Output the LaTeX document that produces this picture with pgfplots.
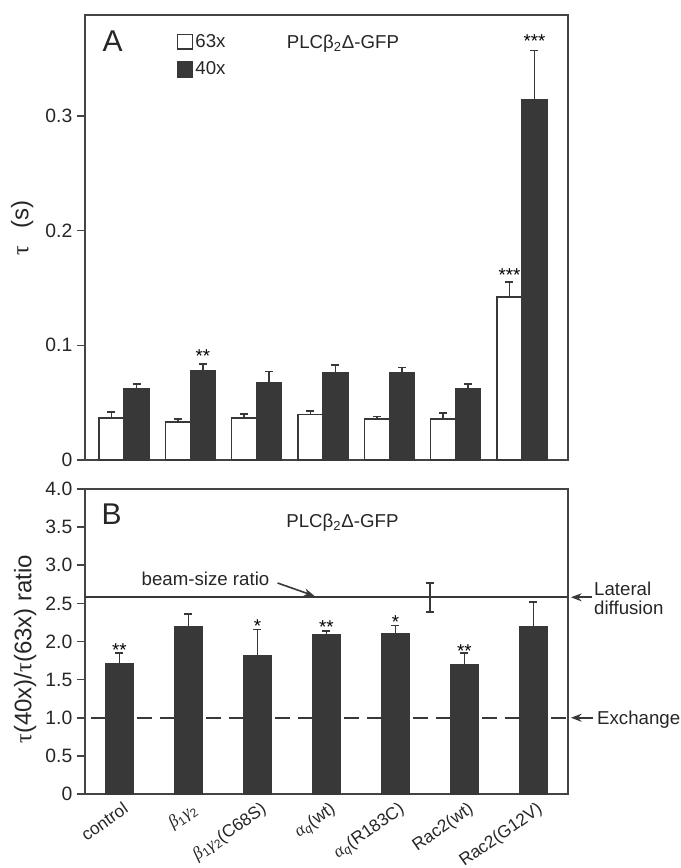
\documentclass[border=0pt]{standalone}
\usepackage{fontspec}
\setmainfont{Liberation Sans}
\newfontfamily\grk{Liberation Serif}
\usepackage{pgfplots}
\pgfplotsset{compat=1.18}
\usetikzlibrary{arrows.meta}
\definecolor{barc}{HTML}{383838}
\definecolor{axc}{HTML}{444444}
\newcommand{\fs}[1]{\fontsize{#1}{#1}\selectfont}
\newcommand{\gk}[1]{{\grk\itshape #1}}

\begin{document}
\begin{tikzpicture}
\path[use as bounding box] (0,0) rectangle (510.75pt,651pt);
\pgfplotsset{
  panel/.style={
    scale only axis, width=362.25pt,
    axis line style={axc, line width=1.5pt},
    ytick pos=left, xtick pos=bottom,
    tick align=outside, major tick length=6pt,
    ytick style={axc, line width=1.2pt},
    xtick style={draw=none},
    tick label style={font=\fs{14.5pt}, text=black!85},
    /pgf/number format/assume math mode=true,
    ymin=0, clip=false,
    label style={font=\fs{18pt}, text=black!85},
  },
  errs/.style={error bars/.cd, y dir=plus, y explicit,
    error bar style={barc, line width=1.2pt},
    error mark options={rotate=90, barc, mark size=3pt, line width=1.2pt}},
}

% ---- panel A ----
\begin{axis}[panel, at={(63.75pt,306pt)}, anchor=south west,
  height=333.75pt,
  xmin=-0.588, xmax=6.694, ymax=0.388,
  xtick=\empty,
  ytick={0,0.1,0.2,0.3}, yticklabels={0,0.1,0.2,0.3},
  ylabel={{\grk τ}\hspace{0.7em}(s)},
  ylabel style={at={(rel axis cs:-0.13,0.521)}, anchor=center},
  legend style={at={(0.19,0.962)}, anchor=north west, draw=none, fill=none,
    font=\fs{14pt}, inner sep=0pt, row sep=6.5pt, nodes={inner sep=1.5pt, text=black!85}},
  legend cell align=left,
]
\addplot[ybar, bar width=0.377, bar shift=0pt, fill=white, draw=barc, line width=1.2pt,
  legend image code/.code={\draw[fill=white, draw=barc, line width=1pt] (0pt,-5.6pt) rectangle (11.25pt,5.6pt);},
  errs]
  coordinates {
  (-0.1885,0.0366) +- (0,0.0054)
  (0.8115,0.0330) +- (0,0.0030)
  (1.8115,0.0366) +- (0,0.0034)
  (2.8115,0.0395) +- (0,0.0032)
  (3.8115,0.0357) +- (0,0.0023)
  (4.8115,0.0360) +- (0,0.0050)
  (5.8115,0.1420) +- (0,0.0130)
  };
\addlegendentry{63x}
\addplot[ybar, bar width=0.377, bar shift=0pt, fill=barc, draw=barc, line width=1.2pt,
  legend image code/.code={\draw[fill=barc, draw=barc, line width=1pt] (0pt,-5.6pt) rectangle (11.25pt,5.6pt);},
  errs]
  coordinates {
  (0.1885,0.0620) +- (0,0.0040)
  (1.1885,0.0778) +- (0,0.0060)
  (2.1885,0.0670) +- (0,0.0100)
  (3.1885,0.0757) +- (0,0.0070)
  (4.1885,0.0759) +- (0,0.0048)
  (5.1885,0.0620) +- (0,0.0040)
  (6.1885,0.3140) +- (0,0.0430)
  };
\addlegendentry{40x}
\node[font=\fs{22.5pt}, text=black!85, anchor=base] at (rel axis cs:0.057,0.917) {A};
\node[font=\fs{14pt}, text=black!85, anchor=base] at (rel axis cs:0.534,0.924) {PLCβ\textsubscript{2}Δ-GFP};
\node[font=\fs{14pt}, anchor=base, yshift=-8.1pt] at (axis cs:1.1885,0.0942) {**};
\node[font=\fs{14pt}, anchor=base, yshift=-8.1pt] at (axis cs:5.8115,0.1648) {***};
\node[font=\fs{14pt}, anchor=base, yshift=-8.1pt] at (axis cs:6.1885,0.3688) {***};
\end{axis}

% ---- panel B ----
\begin{axis}[panel, at={(63.75pt,55.5pt)}, anchor=south west,
  height=228.75pt,
  xmin=-0.5, xmax=6.5, ymax=4,
  ytick={0,0.5,1,1.5,2,2.5,3,3.5,4},
  yticklabels={0,0.5,1.0,1.5,2.0,2.5,3.0,3.5,4.0},
  xtick={0,1,2,3,4,5,6},
  xticklabels={control,\gk{β}\textsubscript{1}\gk{γ}\textsubscript{2},\gk{β}\textsubscript{1}\gk{γ}\textsubscript{2}(C68S),\gk{α}\textsubscript{\itshape q}(wt),\gk{α}\textsubscript{\itshape q}(R183C),Rac2(wt),Rac2(G12V)},
  xticklabel style={rotate=35, anchor=north east, font=\fs{13pt}, inner sep=2pt, xshift=4pt, yshift=1.5pt},
  ylabel={{\grk τ}(40x)/{\grk τ}(63x) ratio},
  ylabel style={at={(rel axis cs:-0.124,0.475)}, anchor=center},
]
\addplot[barc, line width=1.5pt, dash pattern=on 11.25pt off 6pt, forget plot]
  coordinates {(-0.414,1) (6.5,1)};
\addplot[barc, line width=1.2pt, forget plot]
  coordinates {(-0.5,2.58) (6.5,2.58)};
\addplot[ybar, bar width=0.41, bar shift=0pt, fill=barc, draw=barc, line width=1pt, errs]
  coordinates {
  (0,1.705) +- (0,0.145)
  (1,2.200) +- (0,0.160)
  (2,1.820) +- (0,0.340)
  (3,2.090) +- (0,0.050)
  (4,2.100) +- (0,0.110)
  (5,1.690) +- (0,0.160)
  (6,2.200) +- (0,0.320)
  };
\addplot[draw=none, mark=none, forget plot, error bars/.cd, y dir=both, y explicit,
  error bar style={barc, line width=1.2pt},
  error mark options={rotate=90, barc, mark size=3pt, line width=1.2pt}]
  coordinates {(4.5,2.58) +- (0,0.19)};
\node[font=\fs{22.5pt}, text=black!85, anchor=base] at (rel axis cs:0.055,0.882) {B};
\node[font=\fs{14pt}, text=black!85, anchor=base] at (rel axis cs:0.533,0.875) {PLCβ\textsubscript{2}Δ-GFP};
\node[font=\fs{14pt}, anchor=base, yshift=-8.1pt] at (axis cs:0,1.941) {**};
\node[font=\fs{14pt}, anchor=base, yshift=-8.1pt] at (axis cs:2,2.256) {*};
\node[font=\fs{14pt}, anchor=base, yshift=-8.1pt] at (axis cs:3,2.243) {**};
\node[font=\fs{14pt}, anchor=base, yshift=-8.1pt] at (axis cs:4,2.308) {*};
\node[font=\fs{14pt}, anchor=base, yshift=-8.1pt] at (axis cs:5,1.928) {**};
\node[font=\fs{14pt}, text=black!85, anchor=base west, inner sep=0pt] at (axis cs:0.318,2.728) {beam-size ratio};
\draw[barc, line width=1.2pt, -{Stealth[length=8pt,width=6pt]}] (axis cs:2.291,2.767) -- (axis cs:2.826,2.597);
\draw[barc, line width=1.2pt, -{Stealth[length=8pt,width=6pt]}] (axis cs:6.847,2.58) -- (axis cs:6.543,2.58);
\draw[barc, line width=1.2pt, -{Stealth[length=8pt,width=6pt]}] (axis cs:6.862,1) -- (axis cs:6.543,1);
\node[font=\fs{14pt}, text=black!85, anchor=base west, inner sep=0pt] at (axis cs:6.876,2.597) {Lateral};
\node[font=\fs{14pt}, text=black!85, anchor=base west, inner sep=0pt] at (axis cs:6.876,2.348) {diffusion};
\node[font=\fs{14pt}, text=black!85, anchor=base west, inner sep=0pt] at (axis cs:6.919,0.905) {Exchange};
\end{axis}
\end{tikzpicture}
\end{document}
